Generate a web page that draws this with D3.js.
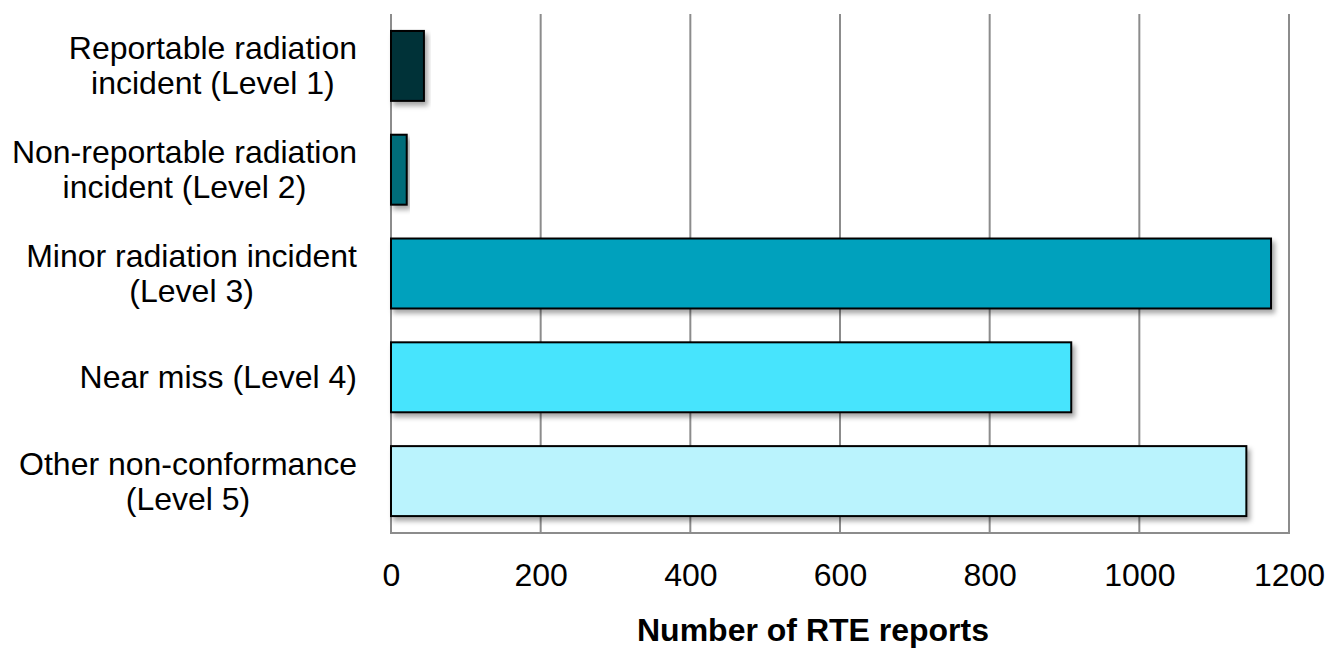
<!DOCTYPE html>
<html><head><meta charset="utf-8">
<script src="https://cdn.jsdelivr.net/npm/d3@7"></script>
<style>
html,body{margin:0;padding:0;background:#fff;}
text{font-family:"Liberation Sans",Arial,sans-serif;}
</style></head>
<body><svg id="chart" width="1326" height="648"></svg>
<script>
const categories = [
  ["Reportable radiation", "incident (Level 1)"],
  ["Non-reportable radiation", "incident (Level 2)"],
  ["Minor radiation incident", "(Level 3)"],
  ["Near miss (Level 4)"],
  ["Other non-conformance", "(Level 5)"]
];
const values = [44, 21, 1176, 909, 1143];
const colors = ["#003139", "#006c79", "#00a1bd", "#46e4fd", "#baf3fd"];
const xTicks = [0, 200, 400, 600, 800, 1000, 1200];
const xTitle = "Number of RTE reports";

const svg = d3.select("#chart");
const m = {left: 391, right: 1289, top: 14, bottom: 533};
const x = d3.scaleLinear().domain([0, 1200]).range([m.left, m.right]);
const y = d3.scaleBand().domain(d3.range(categories.length)).range([m.top, m.bottom]).paddingInner(0.326).paddingOuter(0.163);

const defs = svg.append("defs");
const f = defs.append("filter").attr("id", "sh").attr("x", "-10%").attr("y", "-20%").attr("width", "130%").attr("height", "160%");
f.append("feDropShadow").attr("dx", 3).attr("dy", 4).attr("stdDeviation", 2.5).attr("flood-color", "#000").attr("flood-opacity", 0.35);

// grid
svg.append("g").selectAll("line").data(xTicks).join("line")
  .attr("x1", d => x(d)).attr("x2", d => x(d))
  .attr("y1", m.top).attr("y2", m.bottom)
  .attr("stroke", "#8c8c8c").attr("stroke-width", 2);
// bottom axis line
svg.append("line").attr("x1", m.left - 1).attr("x2", m.right + 1).attr("y1", m.bottom).attr("y2", m.bottom)
  .attr("stroke", "#8c8c8c").attr("stroke-width", 2);

// bars
svg.append("g").selectAll("rect").data(values).join("rect")
  .attr("x", x(0))
  .attr("y", (d, i) => y(i))
  .attr("width", d => x(d) - x(0))
  .attr("height", y.bandwidth())
  .attr("fill", (d, i) => colors[i])
  .attr("stroke", "#000").attr("stroke-width", 2)
  .attr("filter", "url(#sh)");

// x axis labels
const xAxis = d3.axisBottom(x).tickValues(xTicks).tickSize(0).tickPadding(0).tickFormat(d3.format("d"));
const gx = svg.append("g").attr("transform", `translate(0,${m.bottom})`).call(xAxis);
gx.select(".domain").remove();
gx.selectAll("text").attr("font-size", 32).attr("fill", "#000").attr("dy", null).attr("y", 53)
  .style("font-family", '"Liberation Sans",Arial,sans-serif');

// y labels
const labelRight = 357, lh = 35;
categories.forEach((lines, i) => {
  const cy = y(i) + y.bandwidth() / 2;
  const g = svg.append("g");
  const texts = lines.map((t, k) => g.append("text")
    .attr("font-size", 32).attr("text-anchor", "middle").attr("fill", "#000")
    .attr("y", cy + (k - (lines.length - 1) / 2) * lh + 11).text(t));
  const w = d3.max(texts, t => t.node().getComputedTextLength());
  texts.forEach(t => t.attr("x", labelRight - w / 2));
});

// x title
svg.append("text").attr("x", (m.left + m.right) / 2 - 27).attr("y", 641)
  .attr("text-anchor", "middle").attr("font-size", 32).attr("font-weight", "bold").text(xTitle);
</script></body></html>
